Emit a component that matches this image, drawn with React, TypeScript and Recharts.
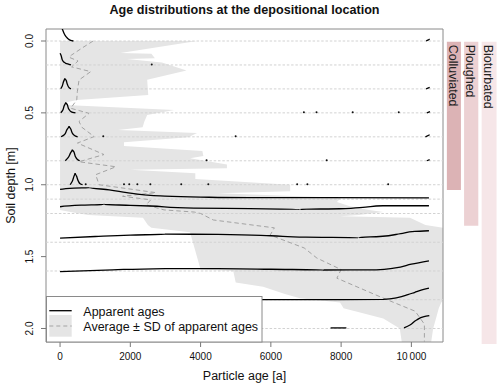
import React from 'react';
import { ComposedChart, XAxis, YAxis, Area, Line, ReferenceLine, ReferenceArea, Legend } from 'recharts';

const FONT = "'Liberation Sans', Arial, Helvetica, sans-serif";

const X_DOMAIN: [number, number] = [-400, 10900];
const Y_DOMAIN: [number, number] = [-0.0835, 2.094];
const xTicks = [0, 2000, 4000, 6000, 8000, 10000];
const yTicks = [0, 0.5, 1.0, 1.5, 2.0];
const layerDepths = [0, 1 / 6, 1 / 3, 0.5, 2 / 3, 5 / 6, 1.0, 1.1, 1.2, 1.4, 1.6, 1.8, 2.0];

// Average ± SD band (depth, lower age, upper age)
const bandDepth = [0, 0.083, 0.088, 0.12, 0.125, 0.15, 0.205, 0.27, 0.375, 0.41, 0.43, 0.445, 0.48, 0.515, 0.56, 0.6, 0.62, 0.64, 0.67, 0.705, 0.73, 0.765, 0.8, 0.815, 0.86, 0.885, 0.895, 0.92, 0.96, 1.0, 1.045, 1.06, 1.09, 1.12, 1.15, 1.175, 1.19, 1.21, 1.22, 1.23, 1.28, 1.3, 1.33, 1.59, 1.6, 1.68, 1.71, 1.76, 1.79, 1.82, 1.86, 1.93, 2.0, 2.1];
const bandLow = [0, 0, 0, 0, 0, 0, 0, 0, 0, 0, 0, 0, 0, 0, 0, 0, 0, 0, 0, 0, 0, 0, 0, 0, 0, 0, 0, 0, 0, 0, 0, 0, 0, 0, 0, 0, 300, 800, 1500, 2360, 2500, 2600, 3700, 4000, 4930, 5000, 5780, 6400, 6830, 7970, 8070, 9200, 9670, 9730];
const bandHigh = [3900, 1720, 2600, 2700, 1900, 2900, 3600, 2480, 2510, 480, 120, 150, 3250, 2480, 2400, 2350, 1650, 3900, 3650, 1820, 1820, 4050, 4080, 3700, 4750, 4750, 2000, 3850, 3850, 6550, 6550, 4500, 8000, 7880, 8250, 8800, 9200, 8500, 7970, 9960, 10400, 10900, 11500, 11500, 11500, 11500, 11500, 11200, 10950, 10850, 10780, 10700, 10620, 10560];

// Average apparent age (dashed line)
const meanDepth = [0, 0.05, 0.097, 0.113, 0.139, 0.18, 0.213, 0.271, 0.353, 0.41, 0.468, 0.503, 0.56, 0.6, 0.665, 0.71, 0.79, 0.84, 0.875, 0.93, 1.0, 1.055, 1.08, 1.105, 1.14, 1.175, 1.19, 1.2, 1.245, 1.3, 1.35, 1.44, 1.51, 1.59, 1.65, 1.79, 1.88, 1.97, 2.1];
const meanAge = [940, 620, 330, 256, 512, 330, 873, 540, 492, 475, 304, 825, 540, 620, 970, 495, 1250, 540, 1590, 1015, 1110, 2730, 1780, 2580, 2450, 2960, 3820, 4000, 4360, 6100, 5980, 6950, 7310, 8000, 7880, 9210, 10110, 10370, 10370];

// Apparent-age distributions: [age, depth] pairs
const curve000 = [[0, -0.16], [40, -0.1], [70, -0.08], [130, -0.045], [200, -0.022], [260, -0.01], [330, -0.002], [380, 0]];
const tail000 = [[10420, 0], [10470, -0.006], [10520, -0.014]];
const curve017 = [[0, 0.085], [30, 0.1], [65, 0.132], [110, 0.147], [162, 0.155], [256, 0.162], [310, 0.1667]];
const curve033 = [[20, 0.332], [60, 0.315], [95, 0.285], [134, 0.259], [170, 0.272], [210, 0.303], [260, 0.325], [310, 0.333]];
const tail033 = [[10420, 0.333], [10520, 0.322]];
const curve050 = [[20, 0.499], [70, 0.485], [115, 0.452], [162, 0.4265], [205, 0.443], [255, 0.476], [320, 0.493], [440, 0.5]];
const tail050 = [[10440, 0.5], [10530, 0.492]];
const curve067 = [[30, 0.666], [120, 0.652], [190, 0.62], [256, 0.591], [305, 0.612], [360, 0.645], [440, 0.662], [500, 0.667]];
const tail067 = [[10400, 0.667], [10520, 0.652]];
const curve083 = [[150, 0.833], [230, 0.812], [295, 0.78], [350, 0.754], [395, 0.772], [450, 0.81], [520, 0.829], [560, 0.833]];
const tail083 = [[10440, 0.833], [10520, 0.826]];
const curve100 = [[290, 1.0], [345, 0.978], [390, 0.945], [427, 0.919], [470, 0.94], [520, 0.975], [580, 0.995], [640, 1.0]];
const curve110 = [[0, 1.032], [400, 1.023], [850, 1.021], [1400, 1.035], [1900, 1.055], [2400, 1.07], [2850, 1.078], [4000, 1.086], [5400, 1.09], [7500, 1.09], [10500, 1.091]];
const curve120 = [[0, 1.153], [600, 1.142], [1250, 1.137], [2000, 1.143], [2560, 1.148], [3810, 1.162], [5400, 1.166], [6830, 1.171], [7970, 1.167], [8700, 1.155], [9190, 1.146], [10500, 1.146]];
const curve140 = [[0, 1.372], [1000, 1.36], [2000, 1.35], [3000, 1.344], [4500, 1.345], [6000, 1.355], [7000, 1.365], [8500, 1.368], [9100, 1.36], [9700, 1.34], [10100, 1.325], [10500, 1.32]];
const curve160 = [[0, 1.605], [1500, 1.592], [3000, 1.583], [4500, 1.583], [6000, 1.588], [7500, 1.593], [9000, 1.592], [9500, 1.58], [10000, 1.553], [10500, 1.53]];
const curve180 = [[0, 1.8], [5000, 1.799], [8000, 1.799], [9200, 1.798], [9600, 1.785], [9900, 1.765], [10100, 1.748], [10300, 1.732], [10500, 1.72]];
const curve200a = [[7700, 1.996], [8150, 1.996]];
const curve200b = [[9790, 1.996], [9960, 1.976], [10150, 1.941], [10360, 1.918], [10510, 1.911]];

const curves = [curve000, tail000, curve017, curve033, tail033, curve050, tail050, curve067, tail067, curve083, tail083, curve100, curve110, curve120, curve140, curve160, curve180, curve200a, curve200b];

// Isolated tiny spikes of the distributions
const dotAges = [2610, 1230, 4998, 4170, 7590, 6940, 7300, 8330, 9640, 730, 1820, 1970, 2200, 2570, 3450, 4220, 6750, 7040, 9340];
const dotDepths = [0.163, 0.663, 0.663, 0.829, 0.829, 0.496, 0.496, 0.496, 0.496, 0.996, 0.996, 0.996, 0.996, 0.996, 0.996, 0.996, 0.996, 0.996, 0.996];

// Processes acting on the profile
const processNames = ['Colluviated', 'Ploughed', 'Bioturbated'];
const processTop = [0.005, 0.005, 0.005];
const processBottom = [1.037, 1.285, 2.108];
const processColors = ['#dcb3b5', '#ecd1d3', '#f6e6e8'];
const processColumns = [[11010, 11410], [11500, 11905], [12000, 12425]];

const bandRows = bandDepth.map((d, i) => ({ depth: d, range: [bandLow[i], bandHigh[i]] }));
const meanRows = meanDepth.map((d, i) => ({ depth: d, age: meanAge[i] }));
const dotRows = dotAges.map((a, i) => ({ depth: dotDepths[i], age: a }));
const toRows = (c: number[][]) => c.map(([a, d]) => ({ age: a, depth: d }));

const fmtX = (v: number) => (v >= 10000 ? '10\u2009000' : String(v));

const XTick = (props: any) => {
  const { x, payload } = props;
  return (
    <text x={x} y={360} textAnchor="middle" fontSize={10} fontFamily={FONT} fill="#111">
      {fmtX(payload.value)}
    </text>
  );
};

const YTick = (props: any) => {
  const { y, payload } = props;
  return (
    <text x={33.5} y={y} transform={`rotate(-90 33.5 ${y})`} textAnchor="middle" fontSize={10} fontFamily={FONT} fill="#111">
      {Number(payload.value).toFixed(1)}
    </text>
  );
};

const ProcessLabel = (props: any) => {
  const { viewBox, text } = props;
  if (!viewBox) return null;
  const x = viewBox.x + 2;
  const y = viewBox.y + 3;
  return (
    <text x={x} y={y} transform={`rotate(90 ${x} ${y})`} textAnchor="start" fontSize={12.5} fontFamily={FONT} fill="#222">
      {text}
    </text>
  );
};

const LegendBox = () => (
  <svg width={217} height={47} style={{ display: 'block' }}>
    <rect x={0.5} y={0.5} width={215.5} height={45.5} fill="#ffffff" stroke="#8a8a8a" strokeWidth={1} />
    <line x1={3.3} x2={25.7} y1={14.7} y2={14.7} stroke="#000" strokeWidth={1.3} />
    <text x={37.3} y={19.5} fontSize={12.5} fontFamily={FONT} fill="#111">Apparent ages</text>
    <rect x={3.3} y={19} width={22.4} height={21.7} fill="#e5e5e5" />
    <line x1={3.3} x2={25.7} y1={30} y2={30} stroke="#a3a3a3" strokeWidth={1} strokeDasharray="4 3" />
    <text x={37.3} y={34.7} fontSize={12.5} fontFamily={FONT} fill="#111">Average ± SD of apparent ages</text>
  </svg>
);

export default function App() {
  return (
    <div style={{ position: 'absolute', left: 0, top: 0, width: 500, height: 387, background: '#fff' }}>
      <ComposedChart
        layout="vertical"
        width={500}
        height={387}
        data={bandRows}
        margin={{ top: 29, right: 57, bottom: 0, left: 0 }}
      >
        <text x={244.5} y={14} textAnchor="middle" fontWeight="bold" fontSize={12.6} fontFamily={FONT} fill="#111">
          Age distributions at the depositional location
        </text>
        <XAxis
          type="number"
          domain={X_DOMAIN}
          ticks={xTicks}
          allowDataOverflow
          height={45}
          axisLine={false}
          tickLine={{ stroke: '#777' }}
          tickSize={5}
          tick={<XTick />}
          interval={0}
          label={(p: any) => (
            <text x={244.5} y={380} textAnchor="middle" fontSize={12.5} fontFamily={FONT} fill="#111">
              Particle age [a]
            </text>
          )}
        />
        <YAxis
          type="number"
          dataKey="depth"
          domain={Y_DOMAIN}
          ticks={yTicks}
          allowDataOverflow
          width={46}
          axisLine={false}
          tickLine={{ stroke: '#777' }}
          tickSize={5}
          tick={<YTick />}
          interval={0}
          label={(p: any) => (
            <text x={14.5} y={185.5} transform="rotate(-90 14.5 185.5)" textAnchor="middle" fontSize={12.5} fontFamily={FONT} fill="#111">
              Soil depth [m]
            </text>
          )}
        />
        <Area
          dataKey="range"
          type="linear"
          fill="#e5e5e5"
          fillOpacity={1}
          stroke="none"
          isAnimationActive={false}
          dot={false}
          activeDot={false}
        />
        {layerDepths.map((d) => (
          <ReferenceLine key={'g' + d} y={d} stroke="#d2d2d2" strokeDasharray="2.5 1.8" strokeWidth={1} />
        ))}
        <Line
          data={meanRows}
          dataKey="age"
          type="linear"
          stroke="#a3a3a3"
          strokeWidth={1}
          strokeDasharray="4.5 3"
          dot={false}
          activeDot={false}
          isAnimationActive={false}
        />
        {curves.map((c, i) => (
          <Line
            key={'c' + i}
            data={toRows(c)}
            dataKey="age"
            type="monotone"
            stroke="#000"
            strokeWidth={1.3}
            dot={false}
            activeDot={false}
            isAnimationActive={false}
          />
        ))}
        <Line
          data={dotRows}
          dataKey="age"
          stroke="none"
          dot={{ r: 1, fill: '#111', stroke: 'none' }}
          activeDot={false}
          isAnimationActive={false}
        />
        {processNames.map((name, i) => (
          <ReferenceArea
            key={name}
            x1={processColumns[i][0]}
            x2={processColumns[i][1]}
            y1={processTop[i]}
            y2={processBottom[i]}
            ifOverflow="visible"
            fill={processColors[i]}
            fillOpacity={1}
            stroke="none"
            label={<ProcessLabel text={name} />}
          />
        ))}
        <ReferenceArea
          x1={X_DOMAIN[0]}
          x2={X_DOMAIN[1]}
          y1={Y_DOMAIN[0]}
          y2={Y_DOMAIN[1]}
          ifOverflow="visible"
          fill="none"
          fillOpacity={0}
          stroke="#8a8a8a"
          strokeWidth={1}
        />
        <Legend
          layout="vertical"
          align="center"
          verticalAlign="middle"
          wrapperStyle={{ position: 'absolute', left: 46, top: 296, width: 217, height: 47 }}
          content={() => <LegendBox />}
        />
      </ComposedChart>
    </div>
  );
}
